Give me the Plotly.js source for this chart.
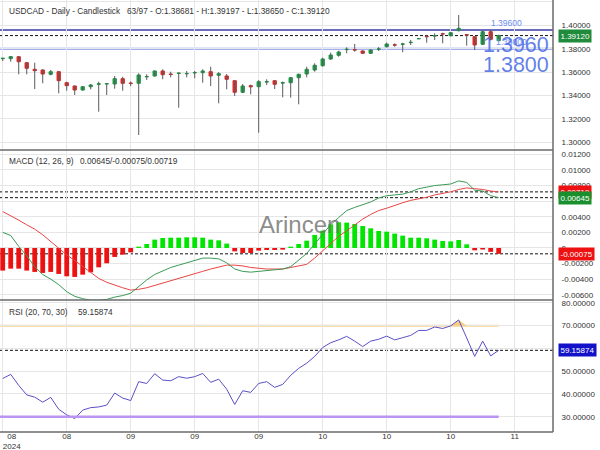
<!DOCTYPE html>
<html><head><meta charset="utf-8">
<script src="https://cdn.plot.ly/plotly-3.0.1.min.js"></script>
<style>html,body{margin:0;padding:0;background:#fff}#chart{width:600px;height:450px}</style>
</head><body><div id="chart"></div>
<script>
// ---- data ----
const openP = [1.37150,1.37150,1.37315,1.36802,1.36238,1.36178,1.35810,1.36033,1.35092,1.34810,
1.34468,1.34750,1.34960,1.34990,1.34981,1.35434,1.35060,1.35041,1.35590,1.35665,
1.36093,1.35830,1.35880,1.35850,1.35930,1.35947,1.36033,1.35725,1.35665,1.35263,
1.34272,1.34836,1.34750,1.35150,1.35263,1.35060,1.35092,1.35520,1.35836,1.36178,
1.36546,1.37119,1.37435,1.37920,1.37920,1.37803,1.37606,1.37950,1.38170,1.38330,
1.38380,1.38520,1.38854,1.39050,1.39090,1.39280,1.39111,1.39538,1.39200,1.39025,
1.38376,1.39453,1.38681];
const highP = [1.37190,1.37340,1.37360,1.36850,1.36802,1.36250,1.36178,1.36080,1.35178,1.34850,
1.34790,1.34981,1.35178,1.35060,1.35665,1.35605,1.35200,1.35896,1.35810,1.36140,
1.36238,1.36033,1.35950,1.36093,1.36093,1.36238,1.36460,1.35990,1.35836,1.35300,
1.34981,1.34930,1.35320,1.35383,1.35300,1.35190,1.35560,1.35860,1.36460,1.36750,
1.37230,1.37660,1.37830,1.38119,1.38401,1.37870,1.37950,1.38140,1.38520,1.38461,
1.38500,1.38743,1.38900,1.39171,1.39316,1.39367,1.39420,1.40881,1.39256,1.39085,
1.39538,1.39600,1.39197];
const lowP = [1.36950,1.36890,1.35810,1.35810,1.34554,1.35041,1.35725,1.34186,1.34408,1.34041,
1.34420,1.34528,1.32613,1.34041,1.34579,1.34408,1.34800,1.30621,1.35330,1.35620,
1.35383,1.35550,1.32955,1.35550,1.35469,1.35092,1.34810,1.33331,1.34528,1.33955,
1.34220,1.34100,1.30817,1.34896,1.34554,1.33844,1.33810,1.33245,1.35550,1.36033,
1.36460,1.37033,1.37315,1.37606,1.37750,1.37550,1.37550,1.37803,1.38100,1.38170,
1.37692,1.38316,1.38820,1.38512,1.38743,1.38461,1.39050,1.39480,1.38256,1.37888,
1.38320,1.38700,1.38650];
const closeP = [1.37180,1.37320,1.36888,1.36324,1.36118,1.35836,1.36033,1.35263,1.34836,1.34468,
1.34750,1.34896,1.34990,1.35010,1.35434,1.35041,1.35030,1.35751,1.35620,1.36093,
1.35776,1.35800,1.35910,1.35880,1.35960,1.36093,1.35665,1.35862,1.35383,1.34272,
1.34810,1.34750,1.35178,1.35180,1.34955,1.35092,1.35520,1.35810,1.36238,1.36580,
1.37119,1.37461,1.37717,1.37948,1.37888,1.37606,1.37888,1.37974,1.38400,1.38310,
1.38401,1.38546,1.38860,1.39025,1.39111,1.39256,1.39367,1.39744,1.39171,1.38316,
1.39453,1.38800,1.39120];

const macdLine = [0.0020,0.0016,0.0002,-0.0010,-0.0024,-0.0034,-0.0040,-0.0047,-0.0056,-0.0062,
-0.0065,-0.0067,-0.0067,-0.0066,-0.0063,-0.0061,-0.0058,-0.0049,-0.0041,-0.0034,
-0.0029,-0.0025,-0.0022,-0.0019,-0.0015,-0.0013,-0.0013,-0.0014,-0.0019,-0.0027,
-0.0030,-0.0031,-0.0030,-0.0029,-0.0028,-0.0027,-0.0024,-0.0015,-0.0007,0.0005,
0.0018,0.0030,0.0039,0.0048,0.0052,0.0055,0.0059,0.0064,0.0067,0.0068,
0.0069,0.0072,0.0076,0.0078,0.0080,0.0081,0.0082,0.0086,0.0084,0.0074,
0.0073,0.0067,0.00645];
const signalLine = [0.00467,0.00416,0.00357,0.00297,0.00241,0.00169,0.00083,0.0000,-0.0009,-0.0016,
-0.0024,-0.0032,-0.0039,-0.0044,-0.0048,-0.0051,-0.0054,-0.0053,-0.0051,-0.0048,
-0.0046,-0.0043,-0.0040,-0.0037,-0.0034,-0.0030,-0.0027,-0.0024,-0.0022,-0.0022,
-0.0023,-0.0025,-0.0026,-0.0027,-0.0027,-0.0027,-0.0025,-0.0023,-0.0021,-0.0013,
-0.0004,0.0006,0.0015,0.0022,0.0030,0.0037,0.0043,0.0048,0.0051,0.0055,
0.0058,0.0061,0.0063,0.0065,0.0068,0.0070,0.0072,0.0075,0.0077,0.0076,
0.0075,0.0073,0.00719];
const macdHist = [-0.0029,-0.00265,-0.00265,-0.0029,-0.00307,-0.0032,-0.00307,-0.00333,-0.00363,-0.00371,
-0.00342,-0.00312,-0.00248,-0.00196,-0.00115,-0.00085,-0.00056,0.00017,0.00051,0.00107,
0.00128,0.00132,0.00132,0.00137,0.00137,0.00132,0.00107,0.00098,0.00056,-0.00043,
-0.00064,-0.00064,-0.00034,-0.00026,-0.00026,-0.00021,0.00017,0.00051,0.00094,0.00167,
0.00222,0.00303,0.00329,0.00325,0.00307,0.00282,0.00252,0.00218,0.00209,0.00184,
0.00158,0.00132,0.00132,0.00124,0.00107,0.0009,0.00085,0.00102,0.00047,-0.0003,
-0.0002,-0.0005,-0.00075];
const rsiValues = [46.8,48.6,43.75,39.6,38.6,36.4,38.5,33.3,30.8,29.2,
32.9,34.0,34.3,35.1,40.4,38.2,37.1,45.4,44.6,48.9,
46.1,45.8,47.6,46.9,47.6,49.0,45.1,46.5,42.1,35.4,
41.4,40.7,44.6,45.4,42.9,44.2,48.2,51.25,53.5,56.5,
60.4,62.5,63.75,65.3,63.2,60.8,63.2,64.0,65.4,63.75,
64.7,65.7,67.9,67.9,69.4,68.75,69.9,72.5,64.6,56.5,
63.2,56.7,59.15874];

const xTickVals = [0,8,16,24,32,40,48,56,64];
const xTickText = ['', '08', '09', '09', '09', '10', '10', '10', '11'];
const firstTickVals = [1.125];
const firstTickText = ['08<br>2024'];
const priceTicks = [1.30,1.32,1.34,1.36,1.38,1.40,1.42];
const macdTicks = [-0.006,-0.004,-0.002,0,0.002,0.004,0.006,0.008,0.010,0.012];
const rsiTicks = [30,40,50,60,70,80];
const priceLevels = [1.3960, 1.3800];
const rsiUpper = 70, rsiLower = 30;
const symbol = 'USDCAD', period = 'Daily', chartType = 'Candlestick';
const barCount = '63/97';

// ---- derived ----
const n = closeP.length;
const idx = closeP.map((_, i) => i);
const last = n - 1;
const bodyHigh = openP.map((o, i) => Math.max(o, closeP[i]));
const bodyLow = openP.map((o, i) => Math.min(o, closeP[i]));
const wickX = [], wickY = [];
idx.forEach(i => { wickX.push(i, i, null); wickY.push(lowP[i], highP[i], null); });
const f5 = v => v.toFixed(5);

const PH = 432, PW = 553;
const priceDom = [1 - 150/PH, 1];
const macdDom = [1 - 300/PH, 1 - 150/PH];
const rsiDom = [0, 1 - 300/PH];
const xRange = [-0.34, 68.79];

const GREEN = '#1f9a4a', RED = '#d92b2b';
const FONT = 'Liberation Sans, Arial, sans-serif';

const traces = [
  {type:'scatter', mode:'lines', x:wickX, y:wickY, xaxis:'x', yaxis:'y',
   line:{color:'#5a5a5a', width:1}, hoverinfo:'skip', showlegend:false},
  {type:'candlestick', x:idx, open:openP, high:bodyHigh, low:bodyLow, close:closeP,
   xaxis:'x', yaxis:'y', whiskerwidth:0,
   increasing:{fillcolor:GREEN, line:{color:GREEN, width:1}},
   decreasing:{fillcolor:RED, line:{color:RED, width:1}}, showlegend:false},
  {type:'bar', x:idx, y:macdHist, xaxis:'x', yaxis:'y2', width:0.6,
   marker:{color:macdHist.map(v => v >= 0 ? '#00e600' : '#ee1111')}, showlegend:false},
  {type:'scatter', mode:'lines', x:idx, y:signalLine, xaxis:'x', yaxis:'y2',
   line:{color:'#e84545', width:1}, showlegend:false},
  {type:'scatter', mode:'lines', x:idx, y:macdLine, xaxis:'x', yaxis:'y2',
   line:{color:'#3a9a55', width:1}, showlegend:false},
  {type:'scatter', mode:'lines', x:idx, y:rsiValues.map(() => rsiUpper), xaxis:'x', yaxis:'y3',
   line:{width:0, color:'rgba(0,0,0,0)'}, hoverinfo:'skip', showlegend:false},
  {type:'scatter', mode:'lines', x:idx, y:rsiValues.map(v => Math.max(v, rsiUpper)), xaxis:'x', yaxis:'y3',
   fill:'tonexty', fillcolor:'rgba(247,200,110,0.85)', line:{width:0, color:'rgba(0,0,0,0)'},
   hoverinfo:'skip', showlegend:false},
  {type:'scatter', mode:'lines', x:idx, y:rsiValues, xaxis:'x', yaxis:'y3',
   line:{color:'#5a50c8', width:1}, showlegend:false},
  {type:'scatter', mode:'markers', x:firstTickVals, y:[rsiValues[0]], xaxis:'x2', yaxis:'y3',
   marker:{opacity:0}, hoverinfo:'skip', showlegend:false}
];

const tickFont = {family:FONT, size:8, color:'#333'};
const yCommon = {side:'right', anchor:'x', gridcolor:'#e6e6e6', zeroline:false, showline:false,
  ticks:'outside', ticklen:6, tickcolor:'rgba(0,0,0,0)', tickfont:tickFont, fixedrange:true, tickmode:'array'};

const lineShape = (yref, y, color, width, dash) => ({type:'line', xref:'paper', x0:0, x1:1, yref, y0:y, y1:y,
  line:{color, width, dash:dash || 'solid'}, layer:'below'});
const frame = (x0, y0, x1, y1) => ({type:'line', xref:'paper', yref:'paper', x0, y0, x1, y1,
  line:{color:'#6a6a6a', width:1.5}, layer:'above'});

const shapes = [
  lineShape('y', priceLevels[0], '#3a3aaa', 1.3),
  lineShape('y', priceLevels[1], '#8094f2', 2),
  lineShape('y', closeP[last], '#111', 1, '3px,2px'),
  lineShape('y2', signalLine[last], '#111', 1, '3px,2px'),
  lineShape('y2', macdLine[last], '#111', 1, '3px,2px'),
  lineShape('y2', macdHist[last], '#111', 1, '3px,2px'),
  lineShape('y3', rsiValues[last], '#111', 1, '3px,2px'),
  {type:'line', xref:'x', yref:'y3', x0:xRange[0], x1:last, y0:rsiUpper, y1:rsiUpper,
   line:{color:'#f8d58f', width:2}, layer:'below'},
  {type:'line', xref:'x', yref:'y3', x0:xRange[0], x1:last, y0:rsiLower, y1:rsiLower,
   line:{color:'#b994f0', width:2.5}, layer:'above'},
  frame(1, 0, 1, 1),
  frame(0, 0, 1, 0),
  frame(0, macdDom[0], 1, macdDom[0]),
  frame(0, priceDom[0], 1, priceDom[0])
];

const ann = (x, y, text, extra) => Object.assign({xref:'paper', yref:'paper', x, y, text, showarrow:false,
  xanchor:'left', yanchor:'middle', font:{family:FONT, size:8.3, color:'#333'}}, extra || {});
const badge = (yref, y, text, bg) => ({xref:'paper', yref, x:1 + 5/PW, y, text, showarrow:false,
  xanchor:'left', yanchor:'middle', bgcolor:bg, borderpad:1.5,
  font:{family:FONT, size:8, color:'#fff'}});

const annotations = [
  ann(7/PW, 1 - 11/PH, symbol + ' - ' + period + ' - ' + chartType),
  ann(125/PW, 1 - 11/PH, barCount + ' - O:' + f5(openP[last]) + ' - H:' + f5(highP[last]) +
      ' - L:' + f5(lowP[last]) + ' - C:' + f5(closeP[last])),
  ann(7/PW, 1 - 161/PH, 'MACD (12, 26, 9)'),
  ann(78/PW, 1 - 161/PH, f5(macdLine[last]) + '/' + f5(macdHist[last]) + '/' + f5(signalLine[last])),
  ann(7/PW, 1 - 312/PH, 'RSI (20, 70, 30)'),
  ann(76/PW, 1 - 312/PH, f5(rsiValues[last])),
  ann(299.5/PW, 1 - 224/PH, 'Arincen', {xanchor:'center', font:{family:FONT, size:24, color:'rgba(110,110,110,0.8)'}}),
  {xref:'paper', yref:'y', x:489/PW, y:priceLevels[0], text:f5(priceLevels[0]), showarrow:false,
   xanchor:'left', yanchor:'bottom', font:{family:FONT, size:8.5, color:'#6d8cf0'}},
  {xref:'paper', yref:'y', x:494/PW, y:priceLevels[1], text:f5(priceLevels[1]), showarrow:false,
   xanchor:'left', yanchor:'bottom', font:{family:FONT, size:8.5, color:'#6d8cf0'}},
  {xref:'paper', yref:'paper', x:551/PW, y:1 - 45/PH, text:priceLevels[0].toFixed(4), showarrow:false,
   xanchor:'right', yanchor:'middle', font:{family:FONT, size:21.5, color:'rgba(70,105,228,0.85)'}},
  {xref:'paper', yref:'paper', x:551/PW, y:1 - 64.5/PH, text:priceLevels[1].toFixed(4), showarrow:false,
   xanchor:'right', yanchor:'middle', font:{family:FONT, size:21.5, color:'rgba(70,105,228,0.85)'}},
  badge('y', closeP[last], f5(closeP[last]), '#1f8b3b'),
  badge('y2', signalLine[last], f5(signalLine[last]), '#ee1111'),
  badge('y2', macdLine[last], f5(macdLine[last]), '#1a8f2e'),
  badge('y2', macdHist[last], f5(macdHist[last]), '#ee1111'),
  badge('y3', rsiValues[last], f5(rsiValues[last]), '#1212c8')
];

// tick labels fully hidden under the value badges in the reference are left blank
const hiddenUnder = (ticks, badges, tol) => ticks.map(t => badges.some(b => Math.abs(b - t) < tol));

const macdHidden = hiddenUnder(macdTicks, [macdLine[last]], 0.0006);
const rsiHidden = hiddenUnder(rsiTicks, [rsiValues[last]], 1.5);

const xLabelPos = 2.5/PH;

const layout = {
  width:600, height:450, margin:{l:0, r:600 - PW, t:0, b:450 - PH},
  paper_bgcolor:'#fff', plot_bgcolor:'#fff', showlegend:false, boxgap:0.4,
  font:{family:FONT, color:'#333'},
  xaxis:{domain:[0,1], range:xRange, anchor:'free', position:xLabelPos, tickmode:'array', tickvals:xTickVals, ticktext:xTickText,
    showgrid:true, gridcolor:'#e6e6e6', zeroline:false, showline:false, ticks:'', tickfont:tickFont,
    rangeslider:{visible:false}, fixedrange:true},
  xaxis2:{overlaying:'x', anchor:'free', position:xLabelPos, side:'bottom', range:xRange, tickmode:'array',
    tickvals:firstTickVals, ticktext:firstTickText, showgrid:false, zeroline:false, showline:false,
    ticks:'', tickfont:tickFont, fixedrange:true},
  yaxis:Object.assign({}, yCommon, {domain:priceDom, range:[1.29338, 1.42163],
    tickvals:priceTicks, ticktext:priceTicks.map(f5)}),
  yaxis2:Object.assign({}, yCommon, {domain:macdDom, range:[-0.00667, 0.01256],
    tickvals:macdTicks, ticktext:macdTicks.map((v, i) => macdHidden[i] ? '' : (v === 0 ? '0' : f5(v)))}),
  yaxis3:Object.assign({}, yCommon, {domain:rsiDom, range:[23.3, 81.25],
    tickvals:rsiTicks, ticktext:rsiTicks.map((v, i) => rsiHidden[i] ? '' : f5(v))}),
  shapes, annotations
};

Plotly.newPlot('chart', traces, layout, {displayModeBar:false, staticPlot:true});
</script>
</body></html>
